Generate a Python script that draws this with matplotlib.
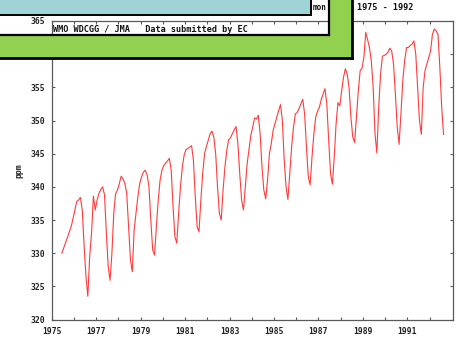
import numpy as np
import matplotlib
matplotlib.use("Agg")
import matplotlib.pyplot as plt
from matplotlib.patches import Rectangle
from matplotlib.lines import Line2D

# ---- data (monthly CO2, ppm) ----
start_year = 1975
start_month = 6  # June 1975
co2_values = [
    # 1975 Jun-Dec
    330.0, 330.8, 331.6, 332.4, 333.2, 334.0, 335.2,
    # 1976
    336.5, 337.8, 338.0, 338.4, 336.5, 331.0, 326.5, 323.5, 329.5, 333.0, 338.6, 336.5,
    # 1977
    338.0, 339.0, 339.6, 340.0, 338.8, 333.0, 328.0, 325.9, 330.0, 336.0, 339.0, 339.5,
    # 1978
    340.5, 341.6, 341.2, 340.5, 339.0, 334.0, 329.0, 327.2, 333.5, 336.0, 338.5, 340.5,
    # 1979
    341.5, 342.2, 342.5, 341.8, 340.0, 335.0, 330.5, 329.7, 334.0, 338.0, 341.0, 342.5,
    # 1980
    343.2, 343.6, 343.9, 344.3, 342.5, 337.0, 332.5, 331.5, 336.0, 340.0, 343.0, 344.8,
    # 1981
    345.6, 345.8, 346.0, 346.2, 344.0, 338.5, 334.0, 333.2, 338.0, 342.0, 345.0, 346.1,
    # 1982
    347.0, 348.0, 348.4, 347.5, 345.0, 340.0, 336.0, 335.0, 339.5, 343.0, 345.5, 347.1,
    # 1983
    347.4, 348.0, 348.6, 349.1, 346.5, 342.0, 338.0, 336.5, 340.0, 343.5, 345.6, 347.8,
    # 1984
    349.0, 350.4, 350.2, 350.8, 348.0, 343.0, 339.5, 338.2, 341.0, 345.0, 346.5, 348.5,
    # 1985
    349.5, 350.5, 351.5, 352.4, 350.0, 344.0, 340.0, 338.1, 342.0, 346.0, 349.0, 351.0,
    # 1986
    351.2, 351.8, 352.5, 353.2, 351.0, 346.0, 341.5, 340.3, 344.5, 348.0, 350.5, 351.4,
    # 1987
    352.0, 353.2, 354.0, 354.8, 352.5, 347.0, 342.0, 340.4, 344.5, 349.5, 352.7, 352.2,
    # 1988
    354.5, 356.5, 357.8, 357.0, 355.0, 350.5, 347.5, 346.7, 350.5, 354.5, 357.5, 357.9,
    # 1989
    359.5, 363.3, 362.2, 361.0, 359.0, 355.0, 348.0, 345.1, 352.0, 357.0, 359.7, 359.8,
    # 1990
    360.0, 360.3, 360.9, 360.5, 358.5, 354.0, 349.0, 346.4, 351.0, 356.0, 359.0, 361.0,
    # 1991
    361.0, 361.3, 361.5, 362.0, 360.0, 355.0, 350.0, 347.9, 355.0, 357.5, 358.5, 359.5,
    # 1992 Jan-Aug
    360.5, 363.0, 363.8, 363.5, 363.0, 358.0, 352.0, 347.9,
]
month_index = np.arange(len(co2_values)) + (start_month - 1)
time_values = start_year + (month_index + 0.5) / 12.0

year_ticks = [1975, 1977, 1979, 1981, 1983, 1985, 1987, 1989, 1991]
minor_year_ticks = [1976, 1978, 1980, 1982, 1984, 1986, 1988, 1990, 1992]
ppm_ticks = [320, 325, 330, 335, 340, 345, 350, 355, 360, 365]

W, H = 461, 342
fig = plt.figure(figsize=(W / 100, H / 100), dpi=100)
fig.patch.set_facecolor("white")


def fx(x):
    return x / W


def fy(y):
    return 1 - y / H


ax = fig.add_axes([fx(51.7), fy(319.5), fx(453) - fx(51.7), fy(21) - fy(319.5)])
ax.plot(time_values, co2_values, color="#ff3b3b", lw=0.8)
ax.set_xlim(1975, 1993.05)
ax.set_ylim(320, 365)
ax.set_xticks(year_ticks)
ax.set_xticks(minor_year_ticks, minor=True)
ax.set_yticks(ppm_ticks)
ax.set_xticklabels([str(y) for y in year_ticks])
ax.set_yticklabels([str(v) for v in ppm_ticks])
for s in ax.spines.values():
    s.set_color("#5a5a5a")
    s.set_linewidth(0.9)
tick_font = dict(family="DejaVu Sans Mono", weight="bold", size=5.8)
ax.tick_params(axis="both", which="both", direction="in", color="#5a5a5a",
               top=True, right=True, length=2.5, width=0.8)
ax.tick_params(axis="x", pad=5.5, labelcolor="#222222")
ax.tick_params(axis="y", pad=5, labelcolor="#222222")
for lab in ax.get_xticklabels() + ax.get_yticklabels():
    lab.set_fontfamily("DejaVu Sans Mono")
    lab.set_fontweight("bold")
    lab.set_fontsize(5.8)

fig.text(fx(18.5), fy(171), "ppm", rotation=90, ha="center", va="center",
         color="#222222", **tick_font)

# header text inside the plot window
fig.text(fx(53), fy(29), "WMO WDCGG / JMA   Data submitted by EC",
         ha="left", va="center", color="#111111", zorder=5,
         family="DejaVu Sans Mono", weight="bold", size=6.1)
fig.text(fx(312.5), fy(7.5), "mon", ha="left", va="center", color="#111111",
         zorder=5, family="DejaVu Sans Mono", weight="bold", size=5.6)
fig.text(fx(357), fy(7.5), "1975 - 1992", ha="left", va="center", color="#111111",
         zorder=5, family="DejaVu Sans Mono", weight="bold", size=6.1)

green = "#92d050"
cyan = "#9fd3d6"
# green frame (two pieces, leaving a window)
fig.patches.append(Rectangle((fx(-5), fy(57.5)), fx(352) - fx(-5), fy(35) - fy(57.5),
                             transform=fig.transFigure, facecolor=green,
                             edgecolor="none", zorder=10))
fig.patches.append(Rectangle((fx(329), fy(35)), fx(352) - fx(329), fy(-5) - fy(35),
                             transform=fig.transFigure, facecolor=green,
                             edgecolor="none", zorder=10))
for (x0, y0, x1, y1, lw) in [
    (352, -5, 352, 57.5, 2.0),
    (-5, 57.5, 352, 57.5, 2.0),
    (329, -5, 329, 35, 1.6),
    (-5, 35, 329, 35, 1.6),
]:
    fig.lines.append(Line2D([fx(x0), fx(x1)], [fy(y0), fy(y1)],
                            transform=fig.transFigure, color="black", lw=lw,
                            zorder=11, solid_capstyle="projecting"))
# cyan box
fig.patches.append(Rectangle((fx(-5), fy(15)), fx(311) - fx(-5), fy(-5) - fy(15),
                             transform=fig.transFigure, facecolor=cyan,
                             edgecolor="black", lw=1.4, zorder=12))

fig.savefig("out.png", dpi=100)
